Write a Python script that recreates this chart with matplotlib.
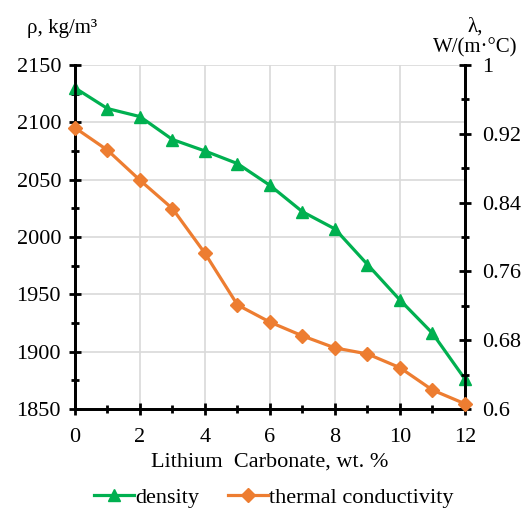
import matplotlib
matplotlib.use("Agg")
import matplotlib.pyplot as plt
from matplotlib.ticker import MultipleLocator
from matplotlib.lines import Line2D

plt.rcParams['font.family'] = ['Liberation Serif', 'DejaVu Serif']

x = [0, 1, 2, 3, 4, 5, 6, 7, 8, 9, 10, 11, 12]
density = [2130, 2112, 2105, 2085, 2075, 2064, 2045, 2022, 2007, 1976, 1945, 1916, 1876]
conductivity = [0.927, 0.901, 0.866, 0.833, 0.781, 0.721, 0.701, 0.685, 0.671,
                0.664, 0.648, 0.622, 0.606]
left_ticks = [1850, 1900, 1950, 2000, 2050, 2100, 2150]
right_ticks = [0.6, 0.68, 0.76, 0.84, 0.92, 1.0]
right_labels = ['0.6', '0.68', '0.76', '0.84', '0.92', '1']
x_ticks = [0, 2, 4, 6, 8, 10, 12]

green = '#00B050'
orange = '#ED7D31'

fig = plt.figure(figsize=(5.31, 5.09), dpi=100)
ax = fig.add_axes([0.1412, 0.1965, 0.8757 - 0.1412, 0.8723 - 0.1965])
ax2 = ax.twinx()

ax.plot(x, density, color=green, lw=2.3, marker='^', ms=9, zorder=3, clip_on=False)
ax2.plot(x, conductivity, color=orange, lw=2.3, marker='D', ms=7, zorder=3, clip_on=False)

ax.set_xlim(0, 12)
ax.set_ylim(1850, 2150)
ax2.set_ylim(0.6, 1.0)

ax.set_xticks(x_ticks)
ax.xaxis.set_minor_locator(MultipleLocator(1))
ax.set_yticks(left_ticks)
ax.yaxis.set_minor_locator(MultipleLocator(25))
ax2.set_yticks(right_ticks)
ax2.set_yticklabels(right_labels)
ax2.yaxis.set_minor_locator(MultipleLocator(0.04))

ax.grid(True, which='major', color='#d9d9d9', lw=1.2)
ax.set_axisbelow(True)

for a in (ax, ax2):
    for s in a.spines.values():
        s.set_linewidth(2)
        s.set_color('black')
    a.spines['top'].set_visible(False)
    a.tick_params(which='both', direction='inout', width=2, labelsize=16, colors='black')
    a.tick_params(which='major', length=8)
    a.tick_params(which='minor', length=6)
ax.tick_params(axis='y', pad=6)
ax.tick_params(axis='x', pad=10)
ax2.tick_params(axis='y', pad=8)

ax.set_xlabel('Lithium  Carbonate, wt. %', fontsize=16, labelpad=4)
fig.text(0.05, 0.925, 'ρ, kg/m³', fontsize=15, ha='left', va='bottom')
fig.text(0.975, 0.888, 'λ,\nW/(m·°C)', fontsize=15, ha='right', va='bottom',
         multialignment='center', linespacing=1.05)

handles = [Line2D([], [], color=green, lw=2.3, marker='^', ms=9),
           Line2D([], [], color=orange, lw=2.3, marker='D', ms=7)]
fig.legend(handles, ['density', 'thermal conductivity'], loc='center',
           bbox_to_anchor=(0.515, 0.022), ncol=2, frameon=False, fontsize=16,
           handlelength=1.8, handletextpad=0.05, columnspacing=1.3)

fig.savefig('out.png', dpi=100)
